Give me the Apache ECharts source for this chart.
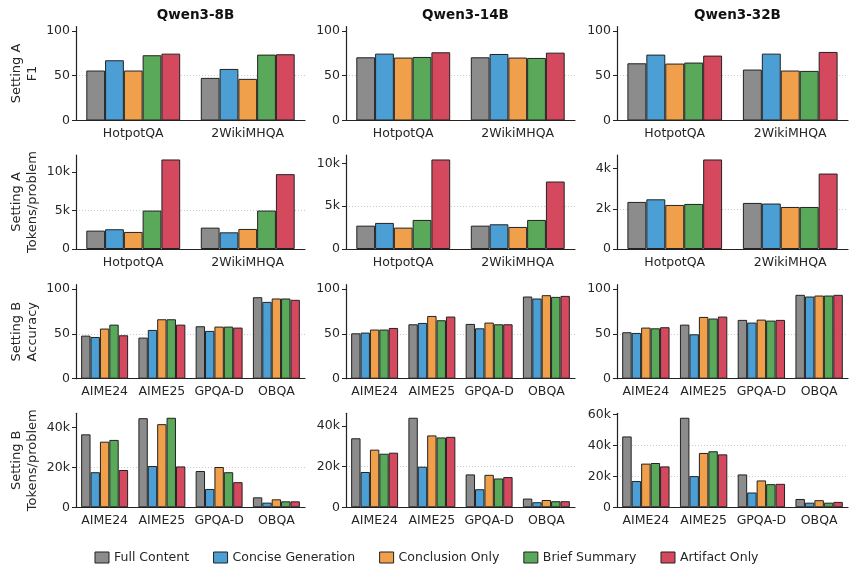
<!DOCTYPE html>
<html><head><meta charset="utf-8">
<script src="https://cdn.jsdelivr.net/npm/echarts@6/dist/echarts.min.js"></script>
<style>html,body{margin:0;padding:0;background:#fff}#c{width:853px;height:573px}</style>
</head><body><div id="c"></div>
<script>
const models = ['Qwen3-8B', 'Qwen3-14B', 'Qwen3-32B'];
const methods = ['Full Content', 'Concise Generation', 'Conclusion Only', 'Brief Summary', 'Artifact Only'];
const qaCats = ['HotpotQA', '2WikiMHQA'];
const reasonCats = ['AIME24', 'AIME25', 'GPQA-D', 'OBQA'];
const rowLabels = ['Setting A\nF1', 'Setting A\nTokens/problem', 'Setting B\nAccuracy', 'Setting B\nTokens/problem'];

// Setting A F1 (rows = methods, columns = qaCats)
const aF1_8B  = [[55.8, 47.6], [67.3, 57.6], [55.8, 46.5], [72.9, 73.6], [74.7, 74.0]];
const aF1_14B = [[70.6, 70.6], [74.7, 74.3], [70.3, 70.3], [71.0, 69.9], [76.2, 75.8]];
const aF1_32B = [[63.9, 56.9], [73.6, 74.7], [63.6, 55.8], [64.7, 55.4], [72.5, 76.6]];

// Setting A tokens/problem
const aTok_8B  = [[2390, 2780], [2570, 2170], [2220, 2610], [5000, 5000], [11650, 9740]];
const aTok_14B = [[2730, 2730], [3050, 2890], [2500, 2580], [3400, 3400], [10470, 7890]];
const aTok_32B = [[2340, 2290], [2470, 2260], [2190, 2090], [2240, 2090], [4450, 3750]];

// Setting B accuracy (columns = reasonCats)
const bAcc_8B  = [[48.1, 45.9, 58.6, 91.0], [46.6, 54.5, 53.4, 85.8], [56.0, 66.4, 58.2, 89.6], [60.4, 66.4, 58.2, 89.6], [48.5, 60.4, 57.1, 88.1]];
const bAcc_14B = [[50.7, 60.8, 61.2, 91.8], [51.5, 62.3, 56.3, 89.6], [54.9, 70.1, 62.7, 93.3], [54.9, 65.3, 60.8, 91.4], [56.7, 69.4, 60.8, 92.5]];
const bAcc_32B = [[51.9, 60.4, 65.7, 93.7], [51.1, 49.6, 62.7, 91.8], [57.1, 69.0, 66.0, 92.9], [56.3, 67.2, 64.9, 92.9], [57.5, 69.4, 65.7, 93.7]];

// Setting B tokens/problem
const bTok_8B  = [[36600, 44700, 18200, 5000], [17600, 20700, 9200, 2350], [32900, 41700, 20200, 4000], [33800, 44900, 17600, 3000], [18700, 20500, 12600, 3000]];
const bTok_14B = [[34000, 44100, 16200, 4300], [17400, 20000, 8900, 2500], [28400, 35400, 16000, 3600], [26400, 34400, 14200, 3000], [26900, 34700, 14900, 3000]];
const bTok_32B = [[45900, 58000, 21300, 5400], [17000, 20200, 9600, 3000], [28300, 35200, 17400, 4600], [28700, 36300, 15000, 3000], [26500, 34300, 15200, 3500]];

// tick values per panel row/col
const scoreTicks = [0, 50, 100];
const aTokTicks = [[0, 5000, 10000], [0, 5000, 10000], [0, 2000, 4000]];
const bTokTicks = [[0, 20000, 40000], [0, 20000, 40000], [0, 20000, 40000, 60000]];

const panels = [
  [aF1_8B, aF1_14B, aF1_32B],
  [aTok_8B, aTok_14B, aTok_32B],
  [bAcc_8B, bAcc_14B, bAcc_32B],
  [bTok_8B, bTok_14B, bTok_32B]
];
const rowCats = [qaCats, qaCats, reasonCats, reasonCats];
const rowTicks = [[scoreTicks, scoreTicks, scoreTicks], aTokTicks, [scoreTicks, scoreTicks, scoreTicks], bTokTicks];
const isScore = [true, false, true, false];

const colors = ['#8c8c8c', '#4b9fd5', '#f0a04b', '#5aa85a', '#d4495e'];
const FONT = 'DejaVu Sans';
const colLeft = [76, 346, 617];
const colWidth = [229, 229, 231];
const rowTop = [26.5, 155, 284.7, 413.3];
const rowHeight = 94;

const grids = [], xAxes = [], yAxes = [], series = [];
const fmt = v => v === 0 ? '0' : (v >= 1000 ? (v / 1000) + 'k' : String(v));

for (let r = 0; r < 4; r++) {
  for (let c = 0; c < 3; c++) {
    const idx = r * 3 + c;
    const data = panels[r][c];
    const ticks = rowTicks[r][c];
    let maxV;
    if (isScore[r]) maxV = 105;
    else maxV = Math.max(...data.flat()) * 1.05;
    grids.push({ left: colLeft[c], top: rowTop[r], width: colWidth[c], height: rowHeight });
    xAxes.push({
      type: 'category', gridIndex: idx, data: rowCats[r],
      axisLine: { lineStyle: { color: '#222', width: 1.2 } },
      axisTick: { alignWithLabel: true, interval: 0, length: 4, lineStyle: { color: '#222' } },
      axisLabel: { interval: 0, color: '#262626', fontFamily: FONT, fontSize: 12.5, margin: 7 }
    });
    const y = {
      type: 'value', gridIndex: idx, min: 0, max: maxV, interval: ticks[1] - ticks[0],
      axisLine: { show: true, lineStyle: { color: '#222', width: 1.2 } },
      axisTick: { show: true, length: 4, customValues: ticks, lineStyle: { color: '#222' } },
      axisLabel: { color: '#262626', fontFamily: FONT, fontSize: 12.5, margin: 6, customValues: ticks, formatter: fmt },
      splitLine: { show: true, showMinLine: false, showMaxLine: false, lineStyle: { color: '#bdbdbd', type: [1, 2], width: 0.8 } }
    };
    if (c === 0) {
      y.name = rowLabels[r];
      y.nameLocation = 'middle';
      y.nameRotate = 90;
      y.nameGap = 35;
      y.nameTextStyle = { color: '#262626', fontFamily: FONT, fontSize: 13, lineHeight: 16 };
    }
    yAxes.push(y);
    for (let m = 0; m < methods.length; m++) {
      series.push({
        type: 'bar', name: methods[m], xAxisIndex: idx, yAxisIndex: idx,
        data: data[m], barGap: '0%', barCategoryGap: '18%',
        itemStyle: { color: colors[m], borderColor: '#222', borderWidth: 1 },
        emphasis: { disabled: true }, animation: false
      });
    }
  }
}

const titles = models.map((t, c) => ({
  text: t, left: colLeft[c] + colWidth[c] / 2, top: 3, textAlign: 'center',
  textStyle: { fontFamily: FONT, fontSize: 13.5, fontWeight: 'bold', color: '#111' }
}));

const chart = echarts.init(document.getElementById('c'), null, { renderer: 'canvas' });
chart.setOption({
  animation: false,
  title: titles,
  grid: grids, xAxis: xAxes, yAxis: yAxes, series: series,
  legend: {
    data: methods, bottom: 4, left: 'center', itemWidth: 14, itemHeight: 11, itemGap: 24,
    icon: 'rect',
    itemStyle: { borderColor: '#222', borderWidth: 1 },
    textStyle: { fontFamily: FONT, fontSize: 12.5, color: '#262626' }
  }
});
</script></body></html>
